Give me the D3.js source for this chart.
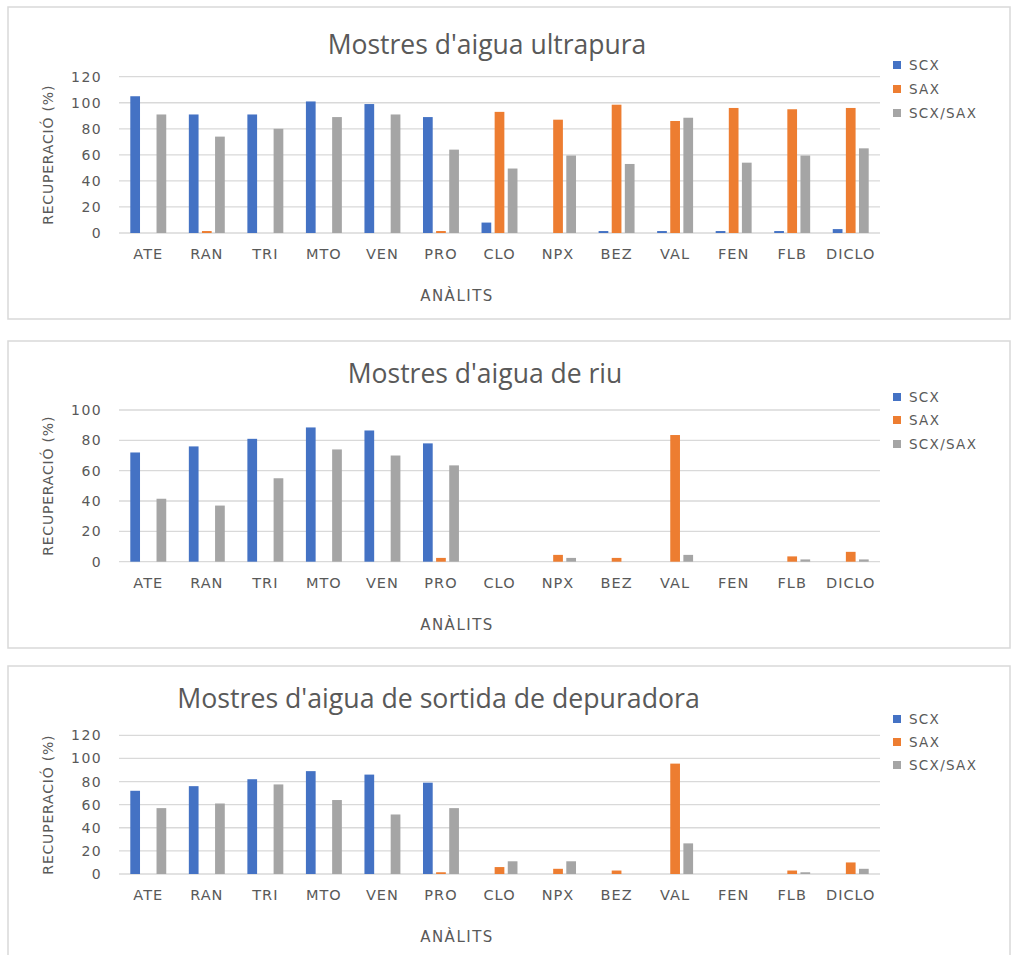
<!DOCTYPE html>
<html>
<head>
<meta charset="utf-8">
<script src="https://cdn.jsdelivr.net/npm/d3@7"></script>
<style>
  html, body { margin: 0; padding: 0; background: #fff; }
  svg { display: block; }
  text { font-family: "DejaVu Sans", "Noto Sans", sans-serif; fill: #595959; }
  text.title { font-family: "Open Sans", "Noto Sans", sans-serif; }
</style>
</head>
<body>
<svg id="chart" width="1011" height="955"></svg>
<script>
// Analytes on the category axis
const categories = ["ATE", "RAN", "TRI", "MTO", "VEN", "PRO", "CLO", "NPX", "BEZ", "VAL", "FEN", "FLB", "DICLO"];
const seriesNames = ["SCX", "SAX", "SCX/SAX"];
const seriesColors = ["#4472C4", "#ED7D31", "#A5A5A5"];

// Recoveries (%) – ultrapure water
const ultraSCX    = [105, 91, 91, 101, 99, 89, 8, 0, 1.5, 1.5, 1.5, 1.5, 3];
const ultraSAX    = [0, 1.5, 0, 0, 0, 1.5, 93, 87, 98.5, 86, 96, 95, 96];
const ultraSCXSAX = [91, 74, 80, 89, 91, 64, 49.5, 59.5, 53, 88.5, 54, 59.5, 65];

// Recoveries (%) – river water
const riuSCX    = [72, 76, 81, 88.5, 86.5, 78, 0, 0, 0, 0, 0, 0, 0];
const riuSAX    = [0, 0, 0, 0, 0, 2.5, 0, 4.5, 2.5, 83.5, 0, 3.5, 6.5];
const riuSCXSAX = [41.5, 37, 55, 74, 70, 63.5, 0, 2.5, 0, 4.5, 0, 1.5, 1.5];

// Recoveries (%) – wastewater treatment plant effluent
const depSCX    = [72, 76, 82, 89, 86, 79, 0, 0, 0, 0, 0, 0, 0];
const depSAX    = [0, 0, 0, 0, 0, 1.5, 6, 4.5, 3, 95.5, 0, 3, 10];
const depSCXSAX = [57, 61, 77.5, 64, 51.5, 57, 11, 11, 0, 26.5, 0, 1.5, 4.5];

// Axis tick values
const ticks120 = [0, 20, 40, 60, 80, 100, 120];
const ticks100 = [0, 20, 40, 60, 80, 100];

const panels = [
  { title: "Mostres d'aigua ultrapura", series: [ultraSCX, ultraSAX, ultraSCXSAX], ticks: ticks120,
    box: [8, 7, 1002, 312], top: 76.7, zero: 233, titleX: 487, titleY: 44, titleSize: 26.5, legendY: [65, 89, 113] },
  { title: "Mostres d'aigua de riu", series: [riuSCX, riuSAX, riuSCXSAX], ticks: ticks100,
    box: [8, 341, 1002, 307], top: 410, zero: 561.7, titleX: 485, titleY: 373, titleSize: 26.5, legendY: [397, 420, 444] },
  { title: "Mostres d'aigua de sortida de depuradora", series: [depSCX, depSAX, depSCXSAX], ticks: ticks120,
    box: [8, 666, 1002, 300], top: 735.3, zero: 874, titleX: 438.5, titleY: 697, titleSize: 26.7, legendY: [719, 742, 765] }
];

const svg = d3.select("#chart");
const plotLeft = 119, plotRight = 880;

panels.forEach(p => {
  const g = svg.append("g");

  // chart frame
  g.append("rect")
    .attr("x", p.box[0]).attr("y", p.box[1])
    .attr("width", p.box[2]).attr("height", p.box[3])
    .attr("fill", "#fff").attr("stroke", "#d9d9d9").attr("stroke-width", 1.5);

  const x = d3.scaleBand().domain(categories).range([plotLeft, plotRight]).padding(0);
  const yMax = p.ticks[p.ticks.length - 1];
  const y = d3.scaleLinear().domain([0, yMax]).range([p.zero, p.top]);

  // horizontal gridlines
  g.append("g").selectAll("line").data(p.ticks).join("line")
    .attr("x1", plotLeft).attr("x2", plotRight)
    .attr("y1", d => y(d)).attr("y2", d => y(d))
    .attr("stroke", "#d9d9d9").attr("stroke-width", 1.3);

  // y-axis tick labels
  const yAxis = d3.axisLeft(y).tickValues(p.ticks).tickSize(0).tickPadding(0);
  const ya = g.append("g").attr("transform", `translate(102,0)`).call(yAxis);
  ya.select(".domain").remove();
  ya.selectAll("text").attr("font-size", 14).attr("fill", "#595959")
    .attr("letter-spacing", 1.4)
    .style("font-family", "'DejaVu Sans', sans-serif");

  // x-axis category labels
  const xAxis = d3.axisBottom(x).tickSize(0).tickPadding(0);
  const xa = g.append("g").attr("transform", `translate(0,${p.zero + 21})`).call(xAxis);
  xa.select(".domain").remove();
  xa.selectAll("text").attr("font-size", 14.5).attr("fill", "#595959")
    .attr("y", 0).attr("dy", "0.36em").attr("letter-spacing", 1)
    .style("font-family", "'DejaVu Sans', sans-serif");

  // grouped bars
  const bw = x.bandwidth();
  const barW = bw * 0.166, step = bw * 0.224;
  p.series.forEach((vals, si) => {
    g.append("g").selectAll("rect").data(vals.map((v, i) => ({ c: categories[i], v })))
      .join("rect")
      .attr("x", d => x(d.c) + bw / 2 + (si - 1) * step - barW / 2)
      .attr("y", d => y(d.v))
      .attr("width", barW)
      .attr("height", d => y(0) - y(d.v))
      .attr("fill", seriesColors[si]);
  });

  // chart title
  g.append("text").attr("class", "title")
    .attr("x", p.titleX).attr("y", p.titleY)
    .attr("text-anchor", "middle").attr("dominant-baseline", "central")
    .attr("font-size", p.titleSize).text(p.title);

  // y-axis title
  const midY = (p.zero + p.top) / 2;
  g.append("text")
    .attr("transform", `translate(48,${midY}) rotate(-90)`)
    .attr("text-anchor", "middle").attr("dominant-baseline", "central")
    .attr("letter-spacing", 0.8)
    .attr("font-size", 14).text("RECUPERACIÓ (%)");

  // x-axis title
  g.append("text")
    .attr("x", 457).attr("y", p.zero + 63)
    .attr("text-anchor", "middle").attr("dominant-baseline", "central")
    .attr("letter-spacing", 1.5)
    .attr("font-size", 15).text("ANÀLITS");

  // legend
  const lg = g.append("g");
  seriesNames.forEach((name, i) => {
    lg.append("rect").attr("x", 893).attr("y", p.legendY[i] - 4)
      .attr("width", 8).attr("height", 8).attr("fill", seriesColors[i]);
    lg.append("text").attr("x", 909).attr("y", p.legendY[i])
      .attr("dominant-baseline", "central").attr("letter-spacing", 1.3)
      .attr("font-size", 13.5).text(name);
  });
});
</script>
</body>
</html>
